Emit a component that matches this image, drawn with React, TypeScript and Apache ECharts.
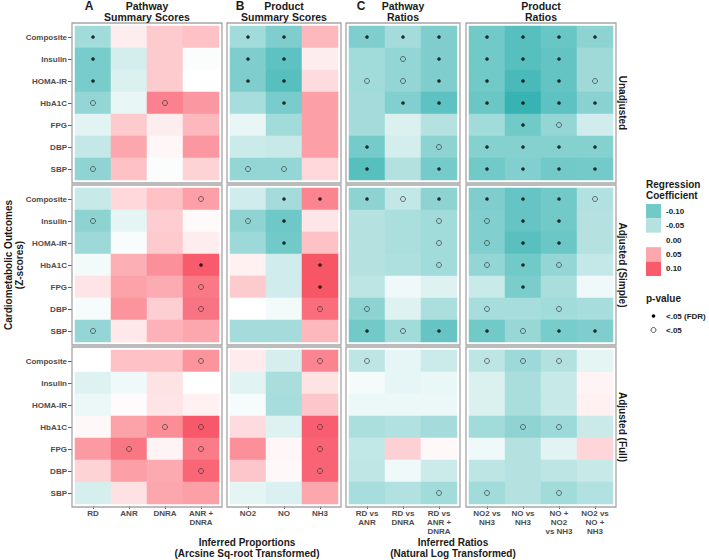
import React, { useEffect, useRef } from "react";
import * as echarts from "echarts";

// ---------- categories ----------
const outcomes = ["Composite", "Insulin", "HOMA-IR", "HbA1C", "FPG", "DBP", "SBP"];
const pathwayScoreCats = ["RD", "ANR", "DNRA", "ANR +\nDNRA"];
const productScoreCats = ["NO2", "NO", "NH3"];
const pathwayRatioCats = ["RD vs\nANR", "RD vs\nDNRA", "RD vs\nANR +\nDNRA"];
const productRatioCats = ["NO2 vs\nNH3", "NO vs\nNH3", "NO +\nNO2\nvs NH3", "NO2 vs\nNO +\nNH3"];
const models = ["Unadjusted", "Adjusted (Simple)", "Adjusted (Full)"];
const panelLetters = ["A", "B", "C", ""];
const panelTitleLine1 = ["Pathway", "Product", "Pathway", "Product"];
const panelTitleLine2 = ["Summary Scores", "Summary Scores", "Ratios", "Ratios"];
const legendBreaks = ["-0.10", "-0.05", "0.00", "0.05", "0.10"];

// ---------- regression coefficients (rows = outcomes) ----------
const coefUnadjPathwayScores = [
  [-0.065, 0.01, 0.03, 0.035],
  [-0.095, -0.03, 0.03, -0.003],
  [-0.095, -0.025, 0.03, 0.0],
  [-0.075, -0.015, 0.075, 0.06],
  [-0.02, 0.03, 0.01, 0.04],
  [-0.04, 0.05, 0.005, 0.06],
  [-0.078, 0.035, -0.003, 0.025],
];
const coefUnadjProductScores = [
  [-0.065, -0.09, 0.04],
  [-0.09, -0.115, 0.01],
  [-0.09, -0.12, 0.02],
  [-0.06, -0.095, 0.055],
  [-0.015, -0.065, 0.055],
  [-0.035, -0.038, 0.055],
  [-0.075, -0.075, 0.022],
];
const coefUnadjPathwayRatios = [
  [-0.09, -0.062, -0.09],
  [-0.065, -0.075, -0.09],
  [-0.065, -0.075, -0.09],
  [-0.062, -0.088, -0.115],
  [-0.062, -0.025, -0.05],
  [-0.097, -0.03, -0.08],
  [-0.12, -0.052, -0.097],
];
const coefUnadjProductRatios = [
  [-0.1, -0.12, -0.107, -0.08],
  [-0.1, -0.12, -0.11, -0.066],
  [-0.1, -0.13, -0.11, -0.066],
  [-0.105, -0.145, -0.115, -0.082],
  [-0.065, -0.1, -0.075, -0.032],
  [-0.085, -0.085, -0.085, -0.085],
  [-0.1, -0.088, -0.1, -0.098],
];
const coefSimplePathwayScores = [
  [-0.038, 0.022, 0.035, 0.055],
  [-0.08, -0.018, 0.028, 0.003],
  [-0.068, -0.005, 0.03, 0.01],
  [-0.008, 0.045, 0.065, 0.1],
  [0.015, 0.052, 0.047, 0.08],
  [-0.006, 0.062, 0.027, 0.083],
  [-0.075, 0.013, 0.043, 0.05],
];
const coefSimpleProductScores = [
  [-0.032, -0.062, 0.072],
  [-0.078, -0.103, 0.014],
  [-0.068, -0.1, 0.035],
  [0.008, -0.032, 0.105],
  [0.03, -0.032, 0.105],
  [0.0, -0.008, 0.088],
  [-0.062, -0.062, 0.04],
];
const coefSimplePathwayRatios = [
  [-0.08, -0.042, -0.08],
  [-0.05, -0.057, -0.065],
  [-0.05, -0.057, -0.065],
  [-0.05, -0.055, -0.065],
  [-0.045, -0.01, -0.022],
  [-0.08, -0.022, -0.057],
  [-0.1, -0.065, -0.108],
];
const coefSimpleProductRatios = [
  [-0.09, -0.108, -0.1, -0.053],
  [-0.088, -0.108, -0.1, -0.05],
  [-0.088, -0.118, -0.105, -0.05],
  [-0.075, -0.1, -0.075, -0.04],
  [-0.037, -0.093, -0.058, -0.01],
  [-0.06, -0.06, -0.065, -0.06],
  [-0.1, -0.072, -0.095, -0.09],
];
const coefFullPathwayScores = [
  [0.0, 0.035, 0.035, 0.062],
  [-0.022, -0.01, 0.016, 0.0],
  [-0.013, 0.002, 0.015, 0.008],
  [0.004, 0.052, 0.067, 0.102],
  [0.058, 0.082, 0.006, 0.078],
  [0.025, 0.055, 0.048, 0.092],
  [-0.028, 0.017, 0.05, 0.055],
];
const coefFullProductScores = [
  [0.011, -0.028, 0.072],
  [-0.02, -0.058, 0.016],
  [-0.006, -0.06, 0.032],
  [0.02, -0.022, 0.098],
  [0.065, 0.005, 0.094],
  [0.032, 0.004, 0.094],
  [-0.018, -0.024, 0.05],
];
const coefFullPathwayRatios = [
  [-0.045, -0.017, -0.035],
  [-0.007, -0.017, -0.014],
  [-0.013, -0.013, -0.013],
  [-0.057, -0.053, -0.062],
  [-0.042, 0.026, 0.004],
  [-0.043, -0.01, -0.035],
  [-0.06, -0.053, -0.065],
];
const coefFullProductRatios = [
  [-0.045, -0.068, -0.052, -0.018],
  [-0.025, -0.058, -0.038, 0.006],
  [-0.025, -0.058, -0.038, 0.008],
  [-0.065, -0.078, -0.068, -0.036],
  [-0.01, -0.05, -0.02, 0.023],
  [-0.045, -0.05, -0.045, -0.038],
  [-0.065, -0.05, -0.065, -0.053],
];

// ---------- significance: 0 none, 1 = p<.05, 2 = p<.05 (FDR) ----------
const sigUnadjPathwayScores = [[2,0,0,0],[2,0,0,0],[2,0,0,0],[1,0,1,0],[0,0,0,0],[0,0,0,0],[1,0,0,0]];
const sigUnadjProductScores = [[2,2,0],[2,2,0],[2,2,0],[0,2,0],[0,0,0],[0,0,0],[1,1,0]];
const sigUnadjPathwayRatios = [[2,2,2],[0,1,2],[1,1,2],[0,2,2],[0,0,0],[2,0,1],[2,0,2]];
const sigUnadjProductRatios = [[2,2,2,2],[2,2,2,0],[2,2,2,1],[2,2,2,2],[0,2,1,0],[2,2,2,2],[2,2,2,2]];
const sigSimplePathwayScores = [[0,0,0,1],[1,0,0,0],[0,0,0,0],[0,0,0,2],[0,0,0,1],[0,0,0,1],[1,0,0,0]];
const sigSimpleProductScores = [[0,2,2],[1,2,0],[0,2,0],[0,0,2],[0,0,2],[0,0,1],[0,0,0]];
const sigSimplePathwayRatios = [[2,1,2],[0,0,1],[0,0,1],[0,0,1],[0,0,0],[1,0,0],[2,1,2]];
const sigSimpleProductRatios = [[2,2,2,1],[1,2,2,0],[1,2,2,0],[1,2,1,0],[0,2,0,0],[1,0,1,0],[2,1,2,2]];
const sigFullPathwayScores = [[0,0,0,1],[0,0,0,0],[0,0,0,0],[0,0,1,1],[0,1,0,1],[0,0,0,1],[0,0,0,0]];
const sigFullProductScores = [[0,0,1],[0,0,0],[0,0,0],[0,0,1],[0,0,1],[0,0,1],[0,0,0]];
const sigFullPathwayRatios = [[1,0,0],[0,0,0],[0,0,0],[0,0,0],[0,0,0],[0,0,0],[0,0,1]];
const sigFullProductRatios = [[1,1,1,0],[0,0,0,0],[0,0,0,0],[0,1,1,0],[0,0,0,0],[0,0,0,0],[1,0,1,0]];

const colCats = [pathwayScoreCats, productScoreCats, pathwayRatioCats, productRatioCats];
const coefs = [
  [coefUnadjPathwayScores, coefUnadjProductScores, coefUnadjPathwayRatios, coefUnadjProductRatios],
  [coefSimplePathwayScores, coefSimpleProductScores, coefSimplePathwayRatios, coefSimpleProductRatios],
  [coefFullPathwayScores, coefFullProductScores, coefFullPathwayRatios, coefFullProductRatios],
];
const sigs = [
  [sigUnadjPathwayScores, sigUnadjProductScores, sigUnadjPathwayRatios, sigUnadjProductRatios],
  [sigSimplePathwayScores, sigSimpleProductScores, sigSimplePathwayRatios, sigSimpleProductRatios],
  [sigFullPathwayScores, sigFullProductScores, sigFullPathwayRatios, sigFullProductRatios],
];

// ---------- styling / layout ----------
const FONT = '"Liberation Sans", Arial, Helvetica, sans-serif';
const scaleColors = ["#2FB0AF", "#71C9C8", "#B5E2E1", "#FFFFFF", "#FCA6AD", "#F85B6C", "#F0283F"];
const legendColors = ["#71C9C8", "#B5E2E1", "#FFFFFF", "#FCA6AD", "#F85B6C"];
const colX = [75, 230, 349, 469];
const colW = [144, 108, 108, 144];
const rowY = [26, 188, 350];
const rowH = 154;

function txt(text: string, x: number, y: number, opts: any = {}) {
  const size = opts.size ?? 10;
  return {
    type: "text",
    x,
    y,
    rotation: opts.rotation ?? 0,
    z: 100,
    silent: true,
    style: {
      text,
      x: 0,
      y: 0,
      fill: opts.color ?? "#1A1A1A",
      fontSize: size,
      fontWeight: opts.weight ?? "bold",
      fontFamily: FONT,
      lineHeight: opts.lineHeight ?? Math.round(size * 1.1),
      align: opts.align ?? "center",
      textAlign: opts.align ?? "center",
      verticalAlign: opts.valign ?? "middle",
      textVerticalAlign: opts.valign ?? "middle",
    },
  };
}

function buildOption() {
  const grid: any[] = [];
  const xAxis: any[] = [];
  const yAxis: any[] = [];
  const series: any[] = [];
  const heatIdx: number[] = [];
  const graphic: any[] = [];

  for (let r = 0; r < 3; r++) {
    for (let c = 0; c < 4; c++) {
      const gi = r * 4 + c;
      grid.push({ left: colX[c], top: rowY[r], width: colW[c], height: rowH });
      const showX = r === 2;
      const showY = c === 0;
      xAxis.push({
        gridIndex: gi,
        type: "category",
        data: colCats[c],
        offset: 2,
        axisLine: { show: false },
        axisTick: { show: showX, length: 3, alignWithLabel: true, lineStyle: { color: "#333", width: 0.8 } },
        axisLabel: {
          show: showX,
          interval: 0,
          margin: 3,
          fontSize: 8,
          lineHeight: 9,
          fontWeight: "bold",
          color: "#4D4D4D",
          fontFamily: FONT,
        },
        splitLine: { show: false },
      });
      yAxis.push({
        gridIndex: gi,
        type: "category",
        data: outcomes,
        inverse: true,
        offset: 3,
        axisLine: { show: false },
        axisTick: { show: showY, length: 4, alignWithLabel: true, lineStyle: { color: "#333", width: 0.8 } },
        axisLabel: {
          show: showY,
          interval: 0,
          margin: 5,
          fontSize: 8,
          fontWeight: "bold",
          color: "#4D4D4D",
          fontFamily: FONT,
        },
        splitLine: { show: false },
      });

      const vals = coefs[r][c];
      const sg = sigs[r][c];
      const heat: any[] = [];
      const fdr: any[] = [];
      const nom: any[] = [];
      vals.forEach((row, i) =>
        row.forEach((v, j) => {
          heat.push([j, i, v]);
          if (sg[i][j] === 2) fdr.push([j, i]);
          else if (sg[i][j] === 1) nom.push([j, i]);
        })
      );
      heatIdx.push(series.length);
      series.push({
        type: "heatmap",
        xAxisIndex: gi,
        yAxisIndex: gi,
        data: heat,
        itemStyle: { borderWidth: 0 },
        emphasis: { disabled: true },
        z: 1,
      });
      series.push({
        type: "scatter",
        xAxisIndex: gi,
        yAxisIndex: gi,
        data: fdr,
        symbol: "circle",
        symbolSize: 3.6,
        itemStyle: { color: "#000" },
        silent: true,
        z: 5,
      });
      series.push({
        type: "scatter",
        xAxisIndex: gi,
        yAxisIndex: gi,
        data: nom,
        symbol: "circle",
        symbolSize: 5,
        itemStyle: { color: "rgba(0,0,0,0)", borderColor: "#333", borderWidth: 0.85 },
        silent: true,
        z: 5,
      });

      graphic.push({
        type: "rect",
        silent: true,
        z: 90,
        shape: { x: colX[c] - 3, y: rowY[r] - 3, width: colW[c] + 6, height: rowH + 6 },
        style: { fill: "none", stroke: "#A6A6A6", lineWidth: 1.3 },
      });
    }
  }

  // panel headers
  const letterX = [89, 240, 361];
  for (let c = 0; c < 4; c++) {
    if (panelLetters[c]) graphic.push(txt(panelLetters[c], letterX[c], 5.5, { size: 12 }));
    graphic.push(txt(panelTitleLine1[c], colX[c] + colW[c] / 2, 6, { size: 10.5 }));
    graphic.push(txt(panelTitleLine2[c], colX[c] + colW[c] / 2, 16.5, { size: 10.5 }));
  }
  // strip labels
  for (let r = 0; r < 3; r++) {
    graphic.push(txt(models[r], 622.5, rowY[r] + rowH / 2, { size: 10, rotation: -Math.PI / 2 }));
  }
  // axis titles
  graphic.push(txt("Cardiometabolic Outcomes\n(Z-scores)", 13.5, 265, { size: 10, rotation: Math.PI / 2, lineHeight: 11 }));
  graphic.push(txt("Inferred Proportions\n(Arcsine Sq-root Transformed)", 247, 547.5, { size: 10, lineHeight: 11 }));
  graphic.push(txt("Inferred Ratios\n(Natural Log Transformed)", 453, 547.5, { size: 10, lineHeight: 11 }));

  // legend: regression coefficient
  graphic.push(txt("Regression\nCoefficient", 646, 178.5, { size: 10, align: "left", valign: "top", lineHeight: 11 }));
  const keyH = 14.4;
  legendBreaks.forEach((b, i) => {
    graphic.push({
      type: "rect",
      silent: true,
      z: 80,
      shape: { x: 646, y: 204 + i * keyH, width: 15, height: keyH },
      style: { fill: legendColors[i] },
    });
    graphic.push(txt(b, 666, 204 + i * keyH + keyH / 2, { size: 8, align: "left", color: "#222" }));
  });
  // legend: p-value
  graphic.push(txt("p-value", 646, 298, { size: 10, align: "left" }));
  graphic.push({ type: "circle", silent: true, z: 80, shape: { cx: 653.5, cy: 316, r: 1.8 }, style: { fill: "#000" } });
  graphic.push(txt("<.05 (FDR)", 666, 316, { size: 8, align: "left", color: "#222" }));
  graphic.push({
    type: "circle",
    silent: true,
    z: 80,
    shape: { cx: 653.5, cy: 330, r: 2.5 },
    style: { fill: "none", stroke: "#333", lineWidth: 0.85 },
  });
  graphic.push(txt("<.05", 666, 330, { size: 8, align: "left", color: "#222" }));

  return {
    animation: false,
    backgroundColor: "#FFFFFF",
    grid,
    xAxis,
    yAxis,
    visualMap: {
      type: "continuous",
      show: false,
      min: -0.15,
      max: 0.15,
      dimension: 2,
      seriesIndex: heatIdx,
      inRange: { color: scaleColors },
    },
    series,
    graphic,
  };
}

export default function App() {
  const ref = useRef<HTMLDivElement | null>(null);
  useEffect(() => {
    if (!ref.current) return;
    const chart = echarts.init(ref.current, undefined, { renderer: "svg" });
    chart.setOption(buildOption() as any);
    return () => chart.dispose();
  }, []);
  return (
    <div
      ref={ref}
      style={{ position: "absolute", left: 0, top: 0, width: 709, height: 560, background: "#fff" }}
    />
  );
}
